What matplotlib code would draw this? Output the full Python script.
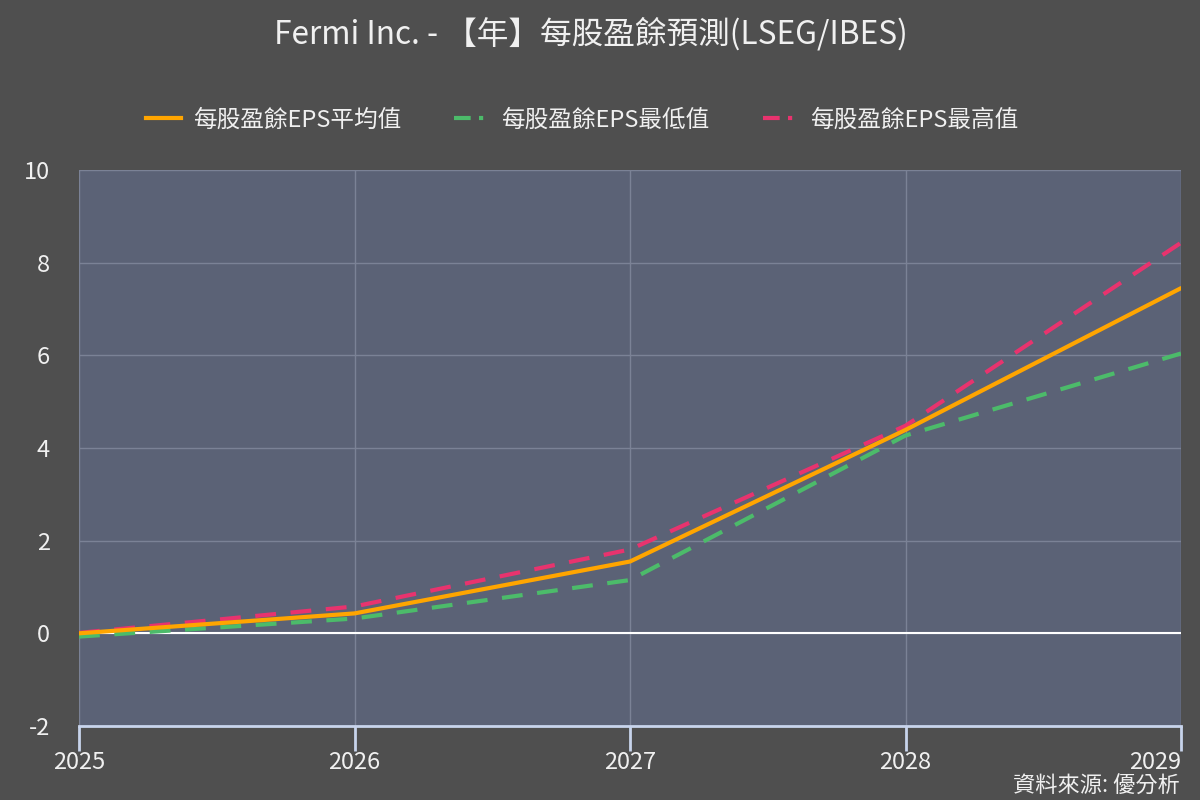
import matplotlib
matplotlib.use("Agg")
import matplotlib.pyplot as plt
from matplotlib.lines import Line2D

plt.rcParams['font.family'] = ['Noto Sans CJK TC', 'DejaVu Sans']

years = [2025, 2026, 2027, 2028, 2029]
eps_avg = [0.0, 0.43, 1.55, 4.39, 7.45]
eps_low = [-0.07, 0.32, 1.15, 4.27, 6.04]
eps_high = [0.01, 0.58, 1.81, 4.48, 8.43]
series_names = ['每股盈餘EPS平均值', '每股盈餘EPS最低值', '每股盈餘EPS最高值']
title = 'Fermi Inc. - 【年】每股盈餘預測(LSEG/IBES)'
source = '資料來源: 優分析'

BG = '#4f4f4f'
PLOT_BG = '#5b6276'
GRID = '#7b8296'
TXT = '#f0f0f0'
C_AVG = '#ffa500'
C_LOW = '#4cbb6a'
C_HIGH = '#e8336e'

fig = plt.figure(figsize=(12, 8), dpi=100, facecolor=BG)
ax = fig.add_axes([79/1200, 74/800, 1102/1200, 556/800])
ax.set_facecolor(PLOT_BG)

ax.plot(years, eps_high, color=C_HIGH, lw=3, dashes=(5, 3.5), zorder=3)
ax.plot(years, eps_low, color=C_LOW, lw=3, dashes=(5, 3.5), zorder=3)
ax.plot(years, eps_avg, color=C_AVG, lw=3, zorder=4, solid_capstyle='round')

ax.set_xlim(2025, 2029)
ax.set_ylim(-2, 10)
ax.set_yticks([-2, 0, 2, 4, 6, 8, 10])
ax.set_xticks(years)
ax.set_yticklabels(['-2', '0', '2', '4', '6', '8', '10'])
ax.set_xticklabels([str(y) for y in years])
ax.get_xticklabels()[-1].set_horizontalalignment('right')

ax.grid(True, color=GRID, lw=1)
ax.set_axisbelow(True)
ax.axhline(0, color='white', lw=1.5, zorder=2)

for s in ['top', 'right', 'left']:
    ax.spines[s].set_visible(False)
ax.spines['bottom'].set_color('#c8d4ec')
ax.spines['bottom'].set_linewidth(2)

ax.tick_params(axis='x', colors='#c8d4ec', length=18, width=2, labelcolor=TXT,
               labelsize=17, pad=0)
ax.tick_params(axis='y', length=0, labelcolor=TXT, labelsize=17, pad=21)

fig.text(0.492, 1 - 34/800, title, ha='center', va='center', color=TXT, fontsize=22.8)

handles = [
    Line2D([], [], color=C_AVG, lw=3),
    Line2D([], [], color=C_LOW, lw=3, dashes=(4, 2, 1, 2)),
    Line2D([], [], color=C_HIGH, lw=3, dashes=(4, 2, 1, 2)),
]
fig.legend(handles, series_names, loc='center', bbox_to_anchor=(0.485, 1 - 120/800),
           ncol=3, frameon=False, fontsize=17, labelcolor=TXT, handlelength=1.5,
           handletextpad=0.5, columnspacing=2.25)

fig.text(1180/1200, 1 - 786/800, source, ha='right', va='center', color=TXT, fontsize=16)

fig.savefig('out.png', dpi=100, facecolor=BG)
